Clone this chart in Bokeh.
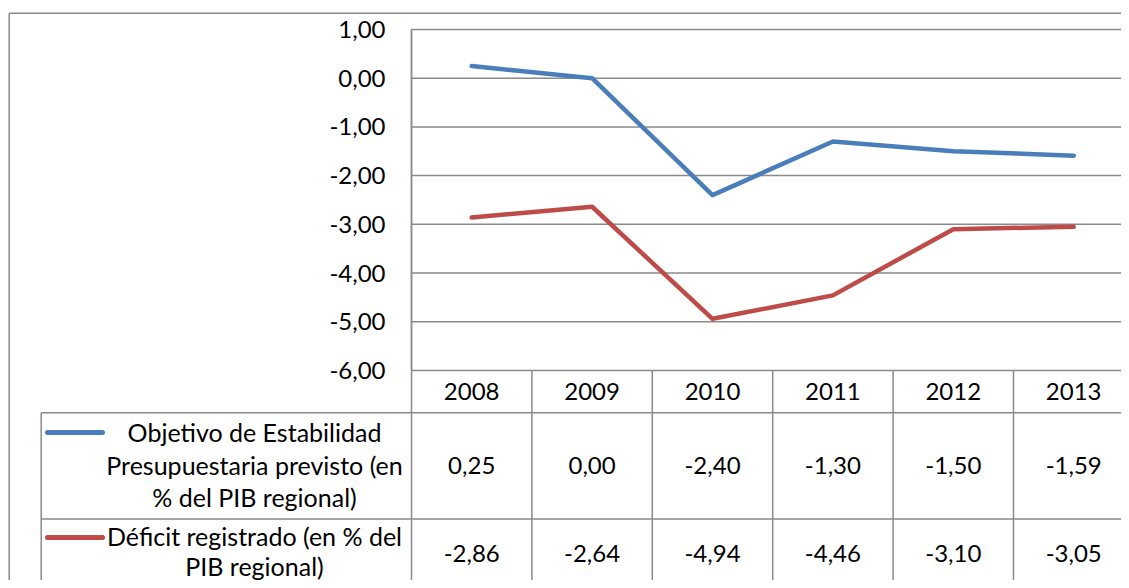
from bokeh.plotting import figure
from bokeh.models import Range1d, LinearAxis, FixedTicker
from bokeh.core.properties import value
from bokeh.embed import file_html
from bokeh.resources import INLINE

# ---- data ----
years = ["2008", "2009", "2010", "2011", "2012", "2013"]
objetivo = [0.25, 0.00, -2.40, -1.30, -1.50, -1.59]
deficit = [-2.86, -2.64, -4.94, -4.46, -3.10, -3.05]
series_names = [
    "Objetivo de Estabilidad\nPresupuestaria previsto (en\n% del PIB regional)",
    "Déficit registrado (en % del\nPIB regional)",
]
series_colors = ["#4A7EBB", "#BE4B48"]
y_ticks = [1, 0, -1, -2, -3, -4, -5, -6]

# ---- layout constants (pixels) ----
W, H = 1121, 580
PX, PY = 120.4, 48.7
X0, Y0 = 411.0, 77.7
FONT = "Lato"
FS = "24px"
FS_LEG = "25px"
GRID = "#8a8a8a"


def sx(px):
    return (px - X0) / PX


def sy(py):
    return (Y0 - py) / PY


def fmt(v):
    return f"{v:.2f}".replace(".", ",")


x_start, x_end = -X0 / PX, (W - X0) / PX
y_end, y_start = Y0 / PY, (Y0 - H) / PY

p = figure(width=W, height=H, output_backend="svg", toolbar_location=None,
           x_range=Range1d(x_start, x_end), y_range=Range1d(y_start, y_end),
           x_axis_type=None, y_axis_type=None, min_border=0,
           outline_line_color=None, background_fill_color="white")
p.grid.visible = False

n = len(years)
xc = [i + 0.5 for i in range(n)]
bottom = y_start

# y axis
yax = LinearAxis(fixed_location=0, bounds=(min(y_ticks), max(y_ticks)),
                 ticker=FixedTicker(ticks=y_ticks),
                 major_label_overrides={t: fmt(t) for t in y_ticks},
                 major_tick_out=0, major_tick_in=0, minor_tick_out=0, minor_tick_in=0,
                 axis_line_color=GRID, axis_line_width=1.5,
                 major_label_standoff=26,
                 major_label_text_font=FONT, major_label_text_font_size=FS,
                 major_label_text_color="black")
p.add_layout(yax, "left")

# x axis (table header)
xax = LinearAxis(fixed_location=min(y_ticks), ticker=FixedTicker(ticks=xc),
                 major_label_overrides={x: y for x, y in zip(xc, years)},
                 major_tick_out=0, major_tick_in=0, minor_tick_out=0, minor_tick_in=0,
                 axis_line_color=None, major_label_standoff=13,
                 major_label_text_font=FONT, major_label_text_font_size=FS,
                 major_label_text_color="black")
p.add_layout(xax, "below")

# horizontal gridlines
p.segment(x0=[0] * len(y_ticks), x1=[x_end] * len(y_ticks), y0=y_ticks, y1=y_ticks,
          line_color=GRID, line_width=1.5)

# table lines
left_tab = sx(40.7)
hdr_bot = sy(412.3)
row1_bot = sy(518.5)
p.segment(x0=[0], x1=[0], y0=[max(y_ticks)], y1=[bottom], line_color=GRID, line_width=1.5)
cols = list(range(1, n))
p.segment(x0=cols, x1=cols, y0=[min(y_ticks)] * len(cols), y1=[bottom] * len(cols),
          line_color=GRID, line_width=1.5)
p.segment(x0=[left_tab, left_tab], x1=[x_end, x_end], y0=[hdr_bot, row1_bot],
          y1=[hdr_bot, row1_bot], line_color=GRID, line_width=1.5)
p.segment(x0=[left_tab], x1=[left_tab], y0=[hdr_bot], y1=[bottom], line_color=GRID, line_width=1.5)

# outer chart border
b_left, b_top = sx(8.7), sy(12.7)
p.segment(x0=[b_left, b_left], x1=[x_end, b_left], y0=[b_top, b_top], y1=[b_top, bottom],
          line_color=GRID, line_width=1.5)

# series lines
for vals, col in zip([objetivo, deficit], series_colors):
    p.line(x=xc, y=vals, line_color=col, line_width=4.5, line_cap="round", line_join="round")

# table: legend keys + names (one text per wrapped line)
first_line = [431.5, 535.0]
line_step = [32.5, 30.0]
key_y = [432.0, 537.0]
for nm, col, ky, fl, st in zip(series_names, series_colors, key_y, first_line, line_step):
    p.segment(x0=[sx(47)], x1=[sx(102)], y0=[sy(ky)], y1=[sy(ky)], line_color=col,
              line_width=5, line_cap="round")
    parts = nm.split("\n")
    p.text(x=[sx(254)] * len(parts), y=[sy(fl + k * st) for k in range(len(parts))],
           text=parts, text_font=value(FONT), text_font_size=FS_LEG,
           text_align="center", text_baseline="middle", text_color="black")

# table: values
val_rows = [sy(465), sy(553)]
for vals, ry in zip([objetivo, deficit], val_rows):
    p.text(x=xc, y=[ry] * n, text=[fmt(v) for v in vals], text_font=value(FONT),
           text_font_size=FS, text_align="center", text_baseline="middle",
           text_color="black")

open("out.html", "w").write(file_html(p, INLINE))
